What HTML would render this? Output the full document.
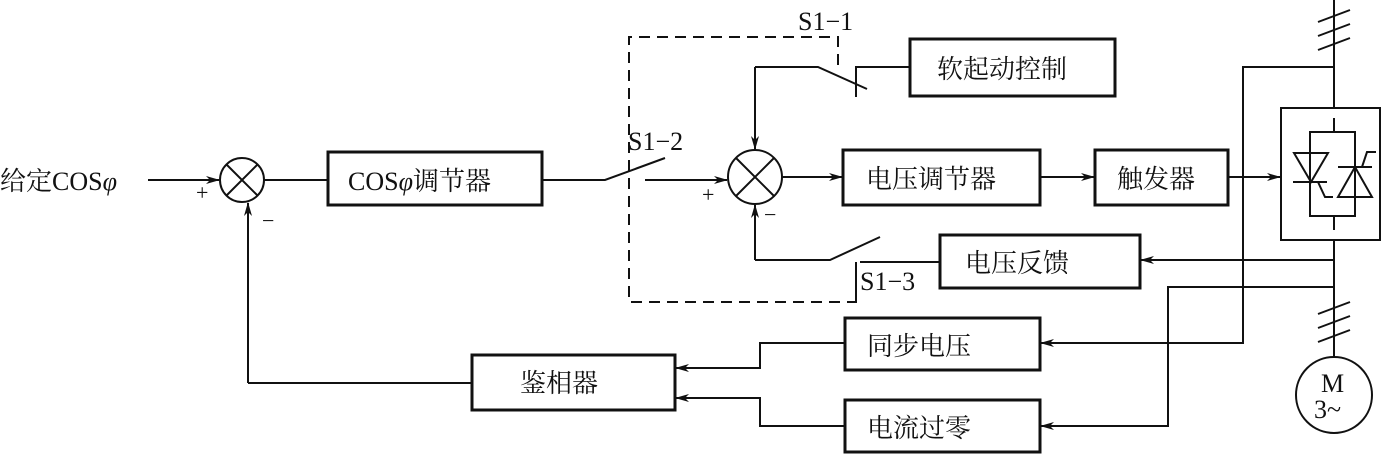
<!DOCTYPE html>
<html><head><meta charset="utf-8"><style>
html,body{margin:0;padding:0;background:#fff;}
svg{display:block;}
text{font-family:"Liberation Serif","Noto Serif CJK SC","Noto Sans CJK SC",serif;fill:#111;}
</style></head><body>
<svg width="1382" height="456" viewBox="0 0 1382 456" xmlns="http://www.w3.org/2000/svg">
<defs>
<marker id="a" markerWidth="14" markerHeight="8" refX="13" refY="4" orient="auto" markerUnits="userSpaceOnUse">
<path d="M0,0 L14,4 L0,8 L4,4 Z" fill="#111"/></marker>
</defs>
<g stroke="#111" stroke-width="2" fill="none">
<!-- boxes -->
<g stroke-width="3">
<rect x="328" y="152" width="214" height="53"/>
<rect x="910" y="39" width="205" height="57"/>
<rect x="843" y="150" width="197" height="55"/>
<rect x="1095" y="150" width="133" height="55"/>
<rect x="940" y="235" width="200" height="53"/>
<rect x="845" y="318" width="195" height="52"/>
<rect x="845" y="400" width="195" height="52"/>
<rect x="472" y="355" width="203" height="55"/>
</g>
<rect x="1281" y="108" width="99" height="132"/>
<!-- circles -->
<circle cx="242" cy="180" r="22"/>
<path d="M226,164 L258,196 M258,164 L226,196"/>
<circle cx="755" cy="177" r="27"/>
<path d="M736,158 L774,196 M774,158 L736,196"/>
<!-- input -->
<path d="M148,180 L219,180" marker-end="url(#a)"/>
<path d="M264,180 L328,180 M542,180 L605,180 L665,158"/>
<path d="M645,180 L727,180" marker-end="url(#a)"/>
<path d="M248,383 L248,203" marker-end="url(#a)"/>
<path d="M472,383 L248,383"/>
<!-- S1-1 -->
<path d="M755,67 L818,67 L867,89 M856,97 L856,67 L910,67"/>
<path d="M755,67 L755,149" marker-end="url(#a)"/>
<!-- forward path -->
<path d="M782,177 L842,177" marker-end="url(#a)"/>
<path d="M1040,177 L1094,177" marker-end="url(#a)"/>
<path d="M1228,177 L1280,177" marker-end="url(#a)"/>
<!-- S1-3 -->
<path d="M860,262 L940,262 M755,260 L830,260 L880,237 M856,262 L856,302"/>
<path d="M755,260 L755,205" marker-end="url(#a)"/>
<!-- dashed -->
<path d="M838,65 L838,37 L629,37 L629,302 L856,302 L856,265" stroke-dasharray="11,7"/>
<!-- bus -->
<path d="M1334,0 L1334,108 M1334,240 L1334,357"/>
<path d="M1318,22 L1350,10 M1318,36 L1350,24 M1318,50 L1350,38"/>
<path d="M1318,314 L1350,302 M1318,328 L1350,316 M1318,342 L1350,330"/>
<circle cx="1334" cy="395" r="38"/>
<!-- thyristors -->
<path d="M1334,118 L1334,132 M1334,216 L1334,230"/>
<rect x="1310" y="132" width="45" height="84"/>
<path d="M1294,153 L1328,153 L1311,182 Z M1293,182 L1327,182 M1318,182 L1325,197 L1333,197"/>
<path d="M1355,167 L1338,197 L1372,197 Z M1338,167 L1372,167 M1362,167 L1367,152 L1376,152"/>
<!-- feedback lines -->
<path d="M1334,67 L1243,67 L1243,343 L1041,343" marker-end="url(#a)"/>
<path d="M1334,260 L1141,260" marker-end="url(#a)"/>
<path d="M1334,287 L1168,287 L1168,426 L1041,426" marker-end="url(#a)"/>
<path d="M845,343 L760,343 L760,368 L676,368" marker-end="url(#a)"/>
<path d="M845,426 L760,426 L760,398 L676,398" marker-end="url(#a)"/>
</g>
<g font-size="26">
<text x="0" y="190">给定COS<tspan font-style="italic">φ</tspan></text>
<text x="348" y="190">COS<tspan font-style="italic">φ</tspan>调节器</text>
<text x="937" y="78">软起动控制</text>
<text x="866" y="188">电压调节器</text>
<text x="1117" y="188">触发器</text>
<text x="965" y="272">电压反馈</text>
<text x="867" y="355">同步电压</text>
<text x="867" y="437">电流过零</text>
<text x="520" y="392">鉴相器</text>
<text x="798" y="30">S1−1</text>
<text x="628" y="150">S1−2</text>
<text x="860" y="290">S1−3</text>
<text x="1321" y="392">M</text>
<text x="1314" y="418">3~</text>
</g>
<g font-size="22">
<text x="196" y="200">+</text>
<text x="702" y="202">+</text>
<text x="262" y="228">−</text>
<text x="764" y="222">−</text>
</g>
</svg>
</body></html>
